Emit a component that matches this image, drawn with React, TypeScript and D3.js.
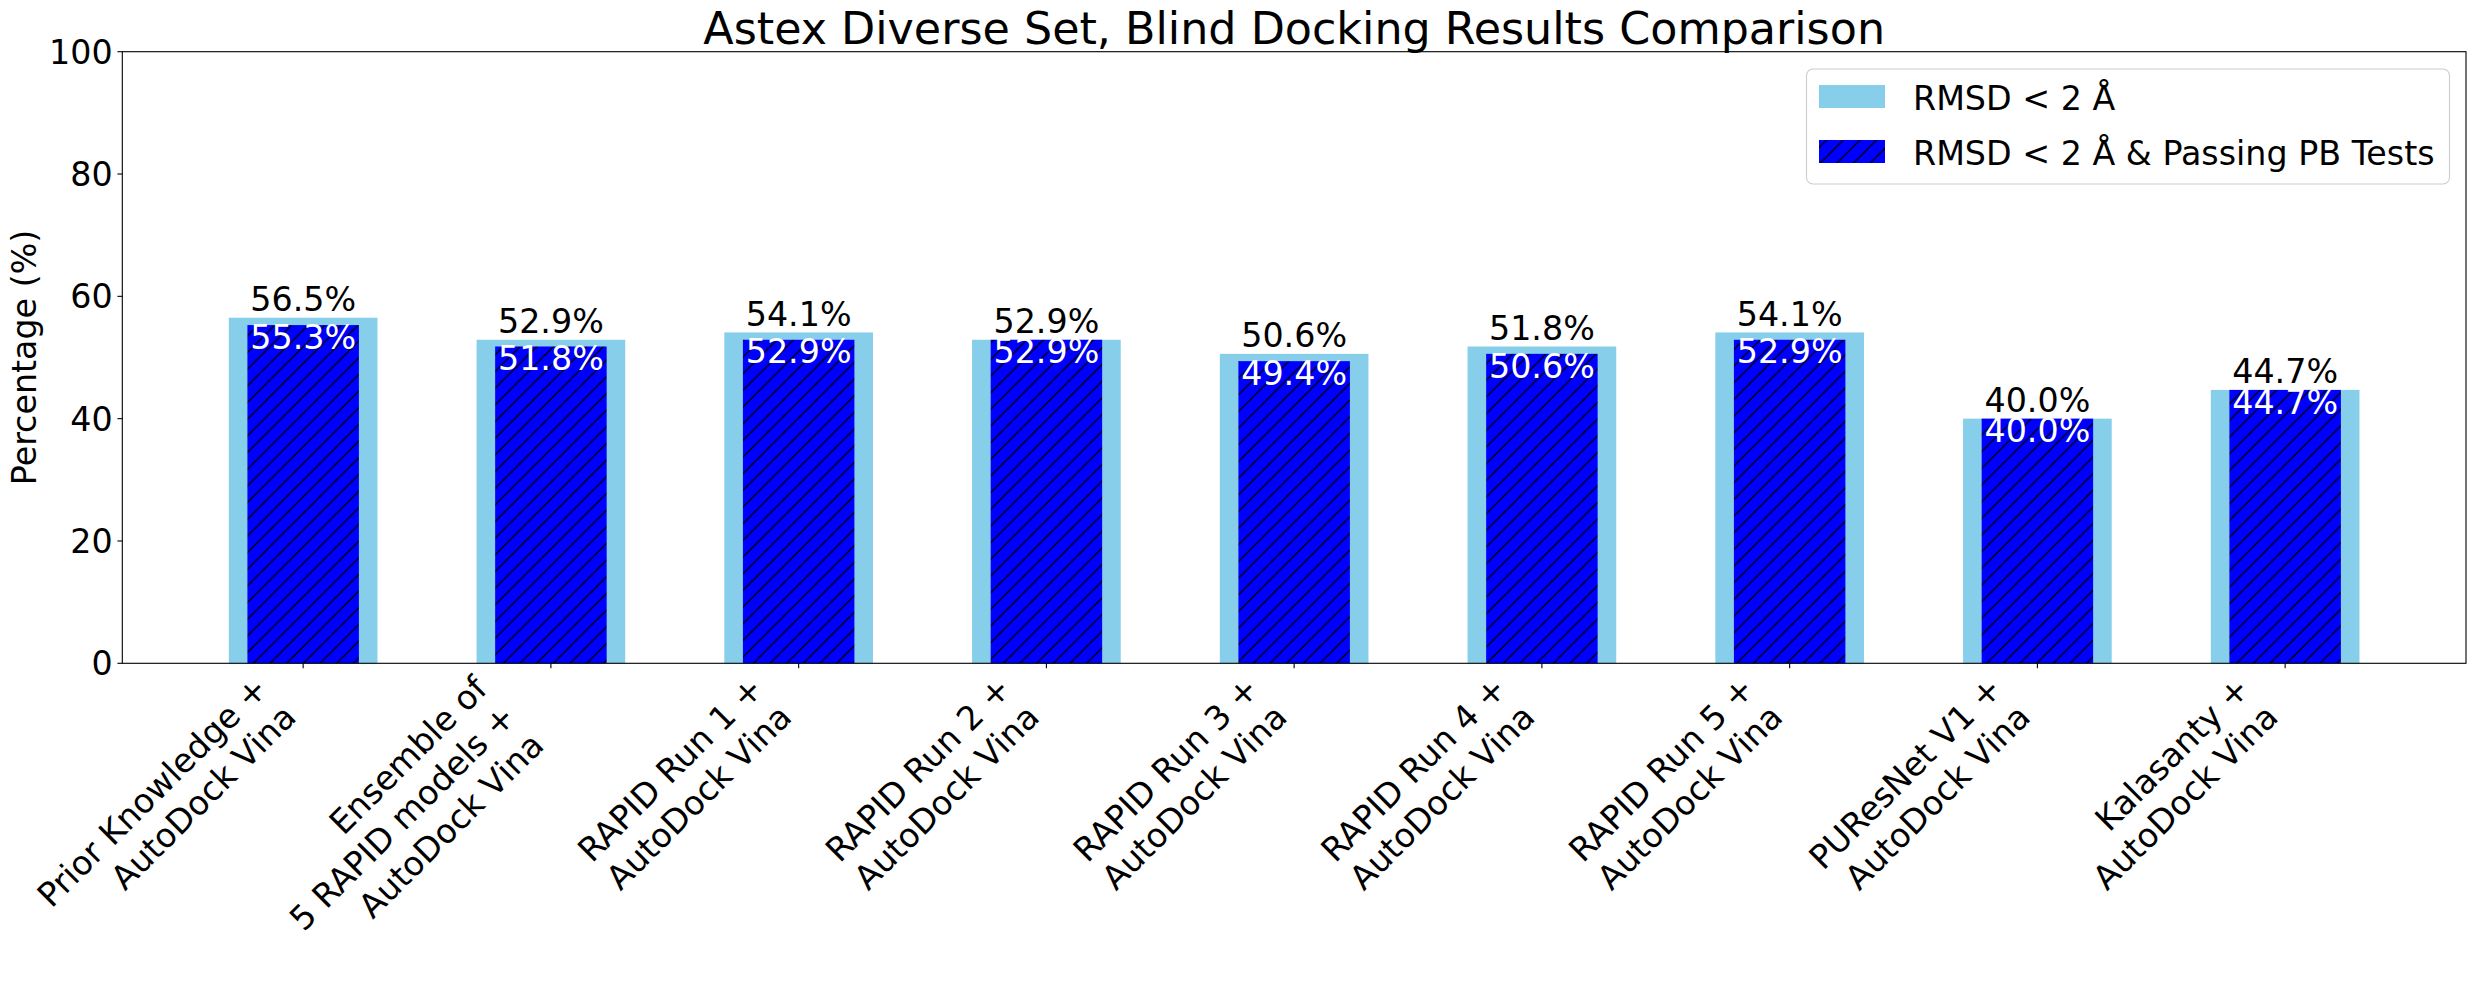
import React from 'react';
import * as d3 from 'd3';

// chart values
const categories = [
  'Prior Knowledge +\nAutoDock Vina',
  'Ensemble of\n5 RAPID models +\nAutoDock Vina',
  'RAPID Run 1 +\nAutoDock Vina',
  'RAPID Run 2 +\nAutoDock Vina',
  'RAPID Run 3 +\nAutoDock Vina',
  'RAPID Run 4 +\nAutoDock Vina',
  'RAPID Run 5 +\nAutoDock Vina',
  'PUResNet V1 +\nAutoDock Vina',
  'Kalasanty +\nAutoDock Vina',
];
const rmsdValues = [56.5, 52.9, 54.1, 52.9, 50.6, 51.8, 54.1, 40.0, 44.7];
const pbValues = [55.3, 51.8, 52.9, 52.9, 49.4, 50.6, 52.9, 40.0, 44.7];
const legendLabels = ['RMSD < 2 Å', 'RMSD < 2 Å & Passing PB Tests'];
const yTicks = [0, 20, 40, 60, 80, 100];

const W = 2474;
const H = 989;
const FONT = '"DejaVu Sans", sans-serif';
const FS = 33.3;

const App: React.FC = () => {
  // plot area
  const left = 122.3;
  const right = 2466;
  const top = 51.7;
  const bottom = 663.3;

  const outerW = 0.6;
  const innerW = 0.45;
  const pad = (categories.length - 1 + outerW) * 0.05;

  const x = d3
    .scaleLinear()
    .domain([-outerW / 2 - pad, categories.length - 1 + outerW / 2 + pad])
    .range([left, right]);
  const y = d3.scaleLinear().domain([0, 100]).range([bottom, top]);

  const tickLen = 4.86;
  const lineH = FS * 1.2;
  const hatch = 100 / 6;

  const legendX = 1806.5;
  const legendY = 69;

  return (
    <svg
      width={W}
      height={H}
      style={{ position: 'absolute', left: 0, top: 0, background: '#fff' }}
      fontFamily={FONT}
    >
      <defs>
        <pattern id="hatch" patternUnits="userSpaceOnUse" width={hatch} height={hatch}>
          <rect width={hatch} height={hatch} fill="#0000ff" />
          <path
            d={`M${-hatch / 2},${hatch / 2} L${hatch / 2},${-hatch / 2} M0,${hatch} L${hatch},0 M${hatch / 2},${hatch * 1.5} L${hatch * 1.5},${hatch / 2}`}
            stroke="#000"
            strokeWidth={1.3}
          />
        </pattern>
      </defs>

      <rect width={W} height={H} fill="#fff" />

      {/* title */}
      <text x={(left + right) / 2} y={44.3} fontSize={44.4} textAnchor="middle">
        Astex Diverse Set, Blind Docking Results Comparison
      </text>

      {/* bars */}
      {rmsdValues.map((v, i) => (
        <rect
          key={'o' + i}
          x={x(i - outerW / 2)}
          y={y(v)}
          width={x(outerW) - x(0)}
          height={y(0) - y(v)}
          fill="#87ceeb"
        />
      ))}
      {pbValues.map((v, i) => (
        <rect
          key={'i' + i}
          x={x(i - innerW / 2)}
          y={y(v)}
          width={x(innerW) - x(0)}
          height={y(0) - y(v)}
          fill="url(#hatch)"
        />
      ))}

      {/* value labels */}
      {rmsdValues.map((v, i) => (
        <text key={'lo' + i} x={x(i)} y={y(v) - 6.5} fontSize={FS} textAnchor="middle">
          {v.toFixed(1)}%
        </text>
      ))}
      {pbValues.map((v, i) => (
        <text key={'li' + i} x={x(i)} y={y(v) + 23.7} fontSize={FS} textAnchor="middle" fill="#fff">
          {v.toFixed(1)}%
        </text>
      ))}

      {/* frame */}
      <rect
        x={left}
        y={top}
        width={right - left}
        height={bottom - top}
        fill="none"
        stroke="#000"
        strokeWidth={1.1}
      />

      {/* y axis */}
      {yTicks.map((t) => (
        <g key={'y' + t}>
          <line x1={left - tickLen} x2={left} y1={y(t)} y2={y(t)} stroke="#000" strokeWidth={1.1} />
          <text x={left - tickLen - 4.86} y={y(t) + 12} fontSize={FS} textAnchor="end">
            {t}
          </text>
        </g>
      ))}
      <text
        transform={`translate(36, ${(top + bottom) / 2}) rotate(-90)`}
        fontSize={FS}
        textAnchor="middle"
      >
        Percentage (%)
      </text>

      {/* x axis */}
      {categories.map((c, i) => {
        const lines = c.split('\n');
        const blockH = 32.5 + (lines.length - 1) * lineH;
        const tx = x(i);
        const y0 = bottom + tickLen + 4.86;
        return (
          <g key={'x' + i}>
            <line x1={tx} x2={tx} y1={bottom} y2={bottom + tickLen} stroke="#000" strokeWidth={1.1} />
            <g transform={`translate(${tx - blockH * Math.SQRT1_2}, ${y0}) rotate(-45)`}>
              <text fontSize={FS} textAnchor="end">
                {lines.map((l, k) => (
                  <tspan key={k} x={0} y={25 + k * lineH}>
                    {l}
                  </tspan>
                ))}
              </text>
            </g>
          </g>
        );
      })}

      {/* legend */}
      <rect
        x={legendX}
        y={legendY}
        width={643}
        height={115}
        rx={6.6}
        fill="#fff"
        fillOpacity={0.8}
        stroke="#cccccc"
        strokeWidth={1.1}
      />
      <rect x={1819} y={85} width={66} height={23} fill="#87ceeb" />
      <rect x={1819} y={140} width={66} height={23} fill="url(#hatch)" />
      {legendLabels.map((l, i) => (
        <text key={'lg' + i} x={1913} y={110 + i * 54.5} fontSize={FS}>
          {l}
        </text>
      ))}
    </svg>
  );
};

export default App;
